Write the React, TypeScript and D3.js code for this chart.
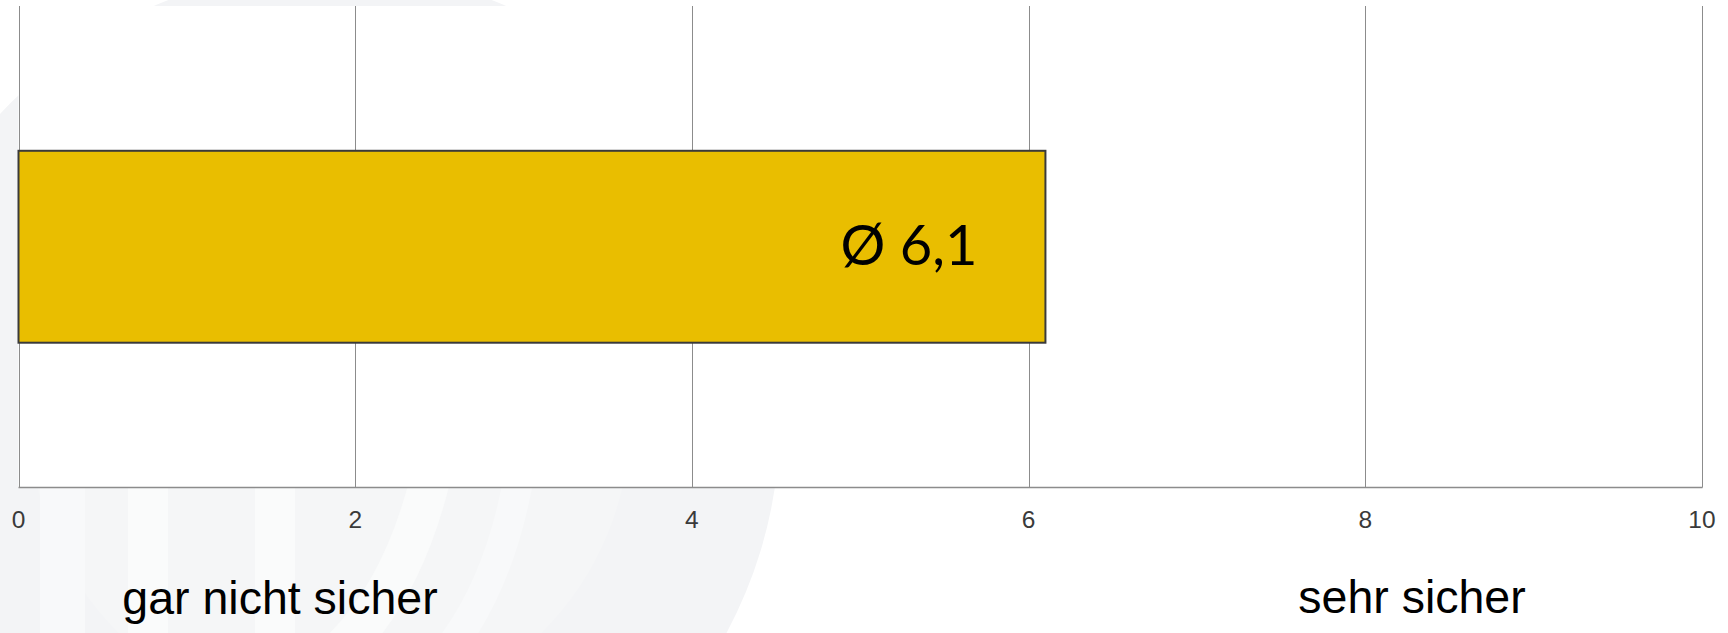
import React from "react";
import * as d3 from "d3";

const categories = ["Sicherheit"];
const values = [6.1];
const valueLabels = ["Ø 6,1"];
const xTicks = [0, 2, 4, 6, 8, 10];
const scaleEndLabels = ["gar nicht sicher", "sehr sicher"];

const W = 1728;
const H = 633;
const plotLeft = 18.5;
const plotRight = 1702;
const plotTop = 6;
const plotBottom = 487.5;

export default function App() {
  const x = d3.scaleLinear().domain([0, 10]).range([plotLeft, plotRight]);
  const y = d3
    .scaleBand<string>()
    .domain(categories)
    .range([plotTop, plotBottom])
    .paddingInner(0.43)
    .paddingOuter(0.43);

  return (
    <svg
      width={W}
      height={H}
      style={{ position: "absolute", left: 0, top: 0, background: "#ffffff" }}
    >
      {/* faint watermark */}
      <g>
        <circle cx={330} cy={420} r={450} fill="#f3f4f6" />
        <circle cx={330} cy={420} r={300} fill="#f5f6f7" />
        <rect x={40} y={400} width={45} height={260} rx={20} fill="#f8f9fa" />
        <rect x={128} y={400} width={40} height={260} fill="#fafbfb" />
        <rect x={255} y={400} width={40} height={260} fill="#fafbfb" />
        <path d="M 430 480 Q 400 600 330 660" stroke="#fafbfb" strokeWidth={40} fill="none" />
        <path d="M 520 470 Q 500 590 440 660" stroke="#f8f9fa" strokeWidth={30} fill="none" />
      </g>

      {/* plot area */}
      <rect
        x={plotLeft}
        y={plotTop}
        width={plotRight - plotLeft}
        height={plotBottom - plotTop}
        fill="#ffffff"
      />

      {/* gridlines */}
      {xTicks.map((t) => (
        <line
          key={"g" + t}
          x1={Math.round(x(t)) + 0.5}
          x2={Math.round(x(t)) + 0.5}
          y1={plotTop}
          y2={plotBottom}
          stroke="#8c8c8c"
          strokeWidth={1}
        />
      ))}
      {/* axis line */}
      <line
        x1={plotLeft}
        x2={plotRight + 0.5}
        y1={plotBottom}
        y2={plotBottom}
        stroke="#8c8c8c"
        strokeWidth={1.5}
      />

      {/* bars */}
      {categories.map((c, i) => (
        <g key={c}>
          <rect
            x={x(0)}
            y={y(c)!}
            width={x(values[i]) - x(0)}
            height={y.bandwidth()}
            fill="#E9BE00"
            stroke="#3a3a3a"
            strokeWidth={2}
          />
          <text
            x={x(values[i]) - 68}
            y={y(c)! + y.bandwidth() / 2 + 18}
            textAnchor="end"
            fontFamily="Lato, 'Open Sans', sans-serif"
            fontSize={56}
            fill="#000000"
          >
            {valueLabels[i]}
          </text>
        </g>
      ))}

      {/* tick labels */}
      {xTicks.map((t) => (
        <text
          key={"t" + t}
          x={x(t)}
          y={528}
          textAnchor="middle"
          fontFamily="'Liberation Sans', Arial, sans-serif"
          fontSize={24.5}
          fill="#3a3a3a"
        >
          {t}
        </text>
      ))}

      {/* scale end labels */}
      <text
        x={280}
        y={614}
        textAnchor="middle"
        fontFamily="'Liberation Sans', Arial, sans-serif"
        fontSize={46.5}
        fill="#000000"
      >
        {scaleEndLabels[0]}
      </text>
      <text
        x={1412}
        y={613}
        textAnchor="middle"
        fontFamily="'Liberation Sans', Arial, sans-serif"
        fontSize={46.5}
        fill="#000000"
      >
        {scaleEndLabels[1]}
      </text>
    </svg>
  );
}
